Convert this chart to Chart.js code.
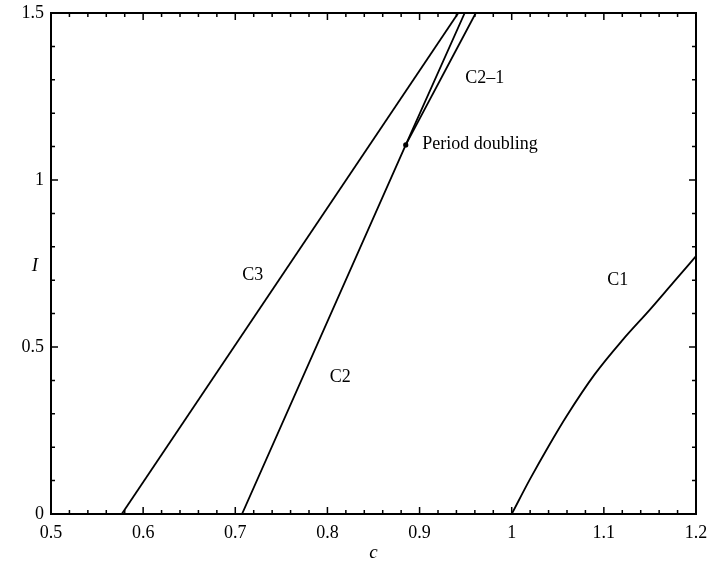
<!DOCTYPE html>
<html><head><meta charset="utf-8">
<script src="https://cdn.jsdelivr.net/npm/chart.js@4/dist/chart.umd.min.js"></script>
<style>html,body{margin:0;padding:0;background:#fff}#wrap{width:708px;height:564px}</style>
</head><body><div id="wrap"><canvas id="cv" width="708" height="564"></canvas></div>
<script>
// ---- data ----
const xTickValues = [0.5, 0.6, 0.7, 0.8, 0.9, 1, 1.1, 1.2];
const yTickValues = [0, 0.5, 1, 1.5];

const c3_c = [0.5768, 0.942];
const c3_I = [0, 1.5];

const c2_c = [0.7073, 0.885, 0.949];
const c2_I = [0, 1.105, 1.5];

const c21_c = [0.885, 0.961];
const c21_I = [1.105, 1.5];

const c1_c = [1.0, 1.02, 1.04, 1.06, 1.09, 1.12, 1.15, 1.175, 1.2];
const c1_I = [0, 0.105, 0.203, 0.295, 0.418, 0.52, 0.612, 0.692, 0.772];

const pd_c = [0.885];
const pd_I = [1.105];

const curveLabels = ['C3', 'C2', 'C1', 'C2\u20131', 'Period doubling'];
const curveLabelC = [0.719, 0.814, 1.115, 0.9707, 0.9029];
const curveLabelI = [0.716, 0.410, 0.699, 1.305, 1.108];

const xTitle = 'c';
const yTitle = 'I';

// ---- build ----
const pts = (cs, is) => cs.map((v, i) => ({x: v, y: is[i]}));
const FONT = '"Liberation Serif", "DejaVu Serif", serif';

const lineStyle = {borderColor: '#000', borderWidth: 1.8, pointRadius: 0, showLine: true, fill: false};

const decor = {
  id: 'decor',
  afterDraw(chart) {
    const ctx = chart.ctx, a = chart.chartArea;
    const xs = chart.scales.x, ys = chart.scales.y;
    ctx.save();
    ctx.strokeStyle = '#000';
    ctx.lineWidth = 2;
    ctx.strokeRect(a.left, a.top, a.right - a.left, a.bottom - a.top);
    ctx.lineWidth = 1.5;
    ctx.beginPath();
    for (let k = 0; k <= 35; k++) {
      const v = 0.5 + k * 0.02;
      const px = xs.getPixelForValue(v);
      const len = (k % 5 === 0) ? 7 : 4;
      ctx.moveTo(px, a.bottom); ctx.lineTo(px, a.bottom - len);
      ctx.moveTo(px, a.top); ctx.lineTo(px, a.top + len);
    }
    for (let k = 0; k <= 15; k++) {
      const v = k * 0.1;
      const py = ys.getPixelForValue(v);
      const len = (k % 5 === 0) ? 7 : 4;
      ctx.moveTo(a.left, py); ctx.lineTo(a.left + len, py);
      ctx.moveTo(a.right, py); ctx.lineTo(a.right - len, py);
    }
    ctx.stroke();
    ctx.fillStyle = '#000';
    ctx.font = '18px ' + FONT;
    ctx.textBaseline = 'middle';
    curveLabels.forEach((t, i) => {
      ctx.textAlign = (i === 4) ? 'left' : 'center';
      ctx.fillText(t, xs.getPixelForValue(curveLabelC[i]), ys.getPixelForValue(curveLabelI[i]));
    });
    ctx.font = 'italic 19px ' + FONT;
    ctx.textAlign = 'center';
    ctx.fillText(yTitle, 35, (a.top + a.bottom) / 2 + 2);
    ctx.fillText(xTitle, (a.left + a.right) / 2, 553);
    ctx.restore();
  }
};

new Chart(document.getElementById('cv'), {
  type: 'scatter',
  data: {
    datasets: [
      {data: pts(c3_c, c3_I), ...lineStyle},
      {data: pts(c2_c, c2_I), ...lineStyle},
      {data: pts(c21_c, c21_I), ...lineStyle},
      {data: pts(c1_c, c1_I), ...lineStyle, cubicInterpolationMode: 'monotone'},
      {data: pts(pd_c, pd_I), showLine: false, pointRadius: 2.6, pointBackgroundColor: '#000', pointBorderColor: '#000', pointBorderWidth: 0}
    ]
  },
  options: {
    responsive: false,
    animation: false,
    devicePixelRatio: 1,
    layout: {padding: {top: 13, right: 12, left: 0, bottom: 0}},
    plugins: {legend: {display: false}, tooltip: {enabled: false}},
    scales: {
      x: {
        type: 'linear', min: 0.5, max: 1.2,
        afterBuildTicks: s => { s.ticks = xTickValues.map(v => ({value: v})); },
        afterFit: s => { s.height = 50; s.paddingLeft = 0; s.paddingRight = 0; },
        grid: {display: false, drawTicks: false},
        border: {display: false},
        ticks: {color: '#000', padding: 8, maxRotation: 0, font: {family: FONT, size: 18},
          callback: v => String(Math.round(v * 10) / 10)}
      },
      y: {
        type: 'linear', min: 0, max: 1.5,
        afterBuildTicks: s => { s.ticks = yTickValues.map(v => ({value: v})); },
        afterFit: s => { s.width = 51; s.paddingTop = 0; s.paddingBottom = 0; },
        grid: {display: false, drawTicks: false},
        border: {display: false},
        ticks: {color: '#000', padding: 7, font: {family: FONT, size: 18},
          callback: v => String(Math.round(v * 10) / 10)}
      }
    }
  },
  plugins: [decor]
});
</script>
</body></html>
